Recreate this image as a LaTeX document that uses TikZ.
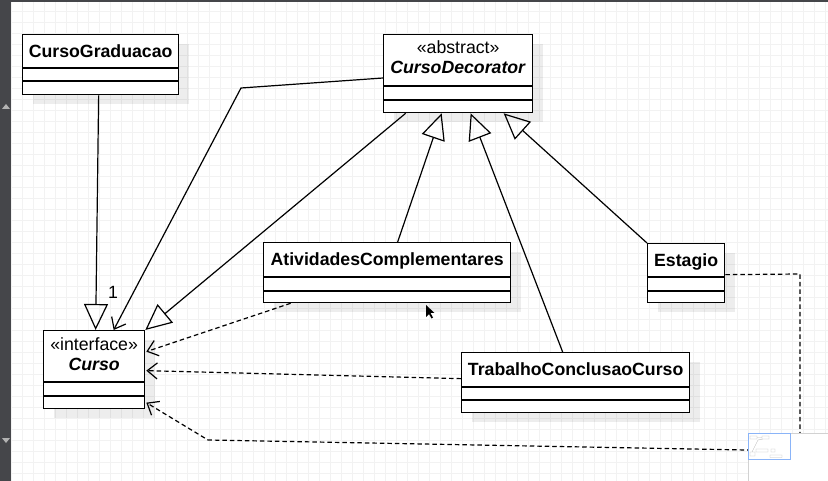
\documentclass[tikz,border=0pt]{standalone}
\usepackage{fontspec}
\setmainfont{Liberation Sans}
\usetikzlibrary{arrows.meta,shadows}
\definecolor{sidebar}{HTML}{45464A}
\definecolor{gridline}{HTML}{F2F2F2}
\definecolor{thumbblue}{HTML}{8AB4F8}
\begin{document}
\begin{tikzpicture}[x=1pt, y=-1pt,
        cls/.style={draw, fill=white, line width=1.3pt, anchor=north west,
            drop shadow={shadow xshift=10pt, shadow yshift=-9pt, fill=black, opacity=0.07}},
        lbl/.style={anchor=base},
        gen/.style={line width=1.2pt, -{Triangle[open, length=26pt, width=24pt]}},
        assoc/.style={line width=1.2pt, -{Straight Barb[length=10pt, width=16pt]}},
        real/.style={assoc, dash pattern=on 4.5pt off 3pt}]

    \tikzstyle{every node}=[font=\fontsize{17.7}{21}\selectfont, inner sep=0pt]

    \useasboundingbox (0,0) rectangle (828,481);
    \fill[white] (0,0) rectangle (828,481);
    \draw[gridline, line width=0.8pt, step=11pt] (11,2) grid (828,481);
    \fill[sidebar] (0,0) rectangle (11,481);
    \fill[sidebar] (0,0) rectangle (828,2);
    \fill[gray!60] (2,109) -- (6,104) -- (10,109) -- cycle;
    \fill[gray!60] (2,438) -- (6,443) -- (10,438) -- cycle;

    \node[cls, minimum width=156pt, minimum height=60pt] (grad) at (22,34) {};
    \node[cls, minimum width=149pt, minimum height=78pt] (dec) at (383,34) {};
    \node[cls, minimum width=101pt, minimum height=78pt] (cur) at (43,330) {};
    \node[cls, minimum width=247pt, minimum height=60pt] (act) at (263,242) {};
    \node[cls, minimum width=228pt, minimum height=60pt] (trab) at (461,352) {};
    \node[cls, minimum width=77pt, minimum height=59pt] (est) at (647,243) {};

    \foreach \n/\a/\b in {grad/34/47, dec/52/66, cur/52/66, act/35/49, trab/35/48, est/34/48} {
        \draw[line width=1.3pt] ([yshift=-\a pt]\n.north west) -- ([yshift=-\a pt]\n.north east);
        \draw[line width=1.3pt] ([yshift=-\b pt]\n.north west) -- ([yshift=-\b pt]\n.north east);
    }

    \node[lbl] (grad-name) at ([yshift=-23.5pt]grad.north) {\textbf{CursoGraduacao}};
    \node[lbl] (dec-stereo) at ([yshift=-20pt]dec.north) {«abstract»};
    \node[lbl] (dec-name) at ([yshift=-40pt]dec.north) {\textbf{\itshape CursoDecorator}};
    \node[lbl] (cur-stereo) at ([yshift=-20pt]cur.north) {«interface»};
    \node[lbl] (cur-name) at ([yshift=-40.5pt]cur.north) {\textbf{\itshape Curso}};
    \node[lbl] (act-name) at ([yshift=-23.5pt]act.north) {\textbf{AtividadesComplementares}};
    \node[lbl] (trab-name) at ([yshift=-23.5pt]trab.north) {\textbf{TrabalhoConclusaoCurso}};
    \node[lbl] (est-name) at ([yshift=-23.5pt]est.north) {\textbf{Estagio}};

    \draw[gen] ([xshift=-2pt]grad.south) -- ([xshift=1.5pt]cur.north);
    \node[lbl] (mult) at (113,299) {1};
    \draw[assoc] ([yshift=-44pt]dec.north west) -- (241,88) -- ([xshift=19.5pt]cur.north);
    \draw[gen] ([xshift=-52.5pt]dec.south) -- (cur.north east);
    \draw[gen] ([xshift=10.5pt]act.north) -- ([xshift=-16.5pt]dec.south);
    \draw[gen] ([xshift=-13pt]trab.north) -- ([xshift=12.5pt]dec.south);
    \draw[gen] (est.north west) -- ([xshift=45.5pt]dec.south);

    \draw[real] ([xshift=-96.5pt]act.south) -- ([shift={(1pt,18pt)}]cur.east);
    \draw[real] ([yshift=4pt]trab.west) -- ([shift={(1pt,-1pt)}]cur.east);
    \draw[real] ([yshift=-1.5pt]est.east) -- (800,274) -- (800,451) -- (208,440)
        -- ([shift={(1pt,-33pt)}]cur.east);

    \fill (426,305) -- (426,317) -- (429,314) -- (431.5,318.5) -- (433,317.5)
        -- (430.5,313) -- (434.5,313) -- cycle;

    \fill[white] (748,433) rectangle (828,481);
    \draw[gray!35] (748,481) -- (748,433) -- (828,433);
    \draw[thumbblue, line width=0.8pt] (748.5,433.5) rectangle (790,459);
    \draw[gray!50, line width=0.4pt] (750,436) rectangle (757,439) (762,436) rectangle (769,439)
        (756,449) rectangle (768,452) (771,449) rectangle (775,452)
        (750,452) rectangle (755,456) (770,455) rectangle (782,457.5)
        (757,437.5) -- (762,437.5) (752,452) -- (758,440) -- (763,439);
\end{tikzpicture}
\end{document}
